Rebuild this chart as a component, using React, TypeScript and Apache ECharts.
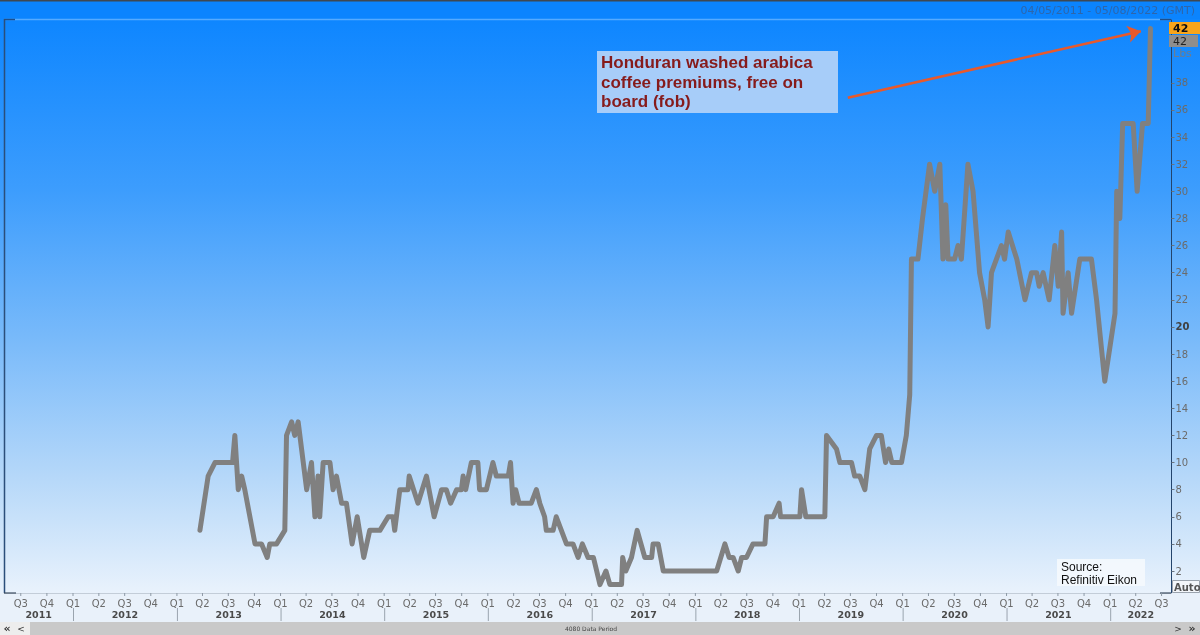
import React, { useEffect, useRef } from 'react';
import * as echarts from 'echarts';

// ---------- data ----------
const dates: string[] = [
  '2013-03-23', '2013-04-21', '2013-05-15', '2013-07-16', '2013-07-24', '2013-08-05', '2013-08-17', '2013-08-28', '2013-10-03', '2013-10-26', '2013-11-15', '2013-11-24', '2013-12-18',
  '2014-01-16', '2014-01-22', '2014-02-09', '2014-02-20', '2014-03-04', '2014-04-03', '2014-04-20', '2014-05-02', '2014-05-13', '2014-05-19', '2014-05-31', '2014-06-24', '2014-07-05', '2014-07-17', '2014-08-04', '2014-08-21', '2014-09-10', '2014-09-28', '2014-10-21', '2014-11-11', '2014-12-17',
  '2015-01-15', '2015-02-01', '2015-02-07', '2015-02-25', '2015-03-26', '2015-03-30', '2015-04-30', '2015-05-30', '2015-06-26', '2015-07-22', '2015-08-08', '2015-08-23', '2015-09-13', '2015-09-30', '2015-10-06', '2015-10-15', '2015-11-04', '2015-11-27', '2015-12-03', '2015-12-27',
  '2016-01-19', '2016-01-31', '2016-03-13', '2016-03-21', '2016-03-30', '2016-04-08', '2016-04-20', '2016-06-02', '2016-06-20', '2016-07-02', '2016-07-19', '2016-07-25', '2016-08-18', '2016-08-29', '2016-09-16', '2016-10-04', '2016-10-27', '2016-11-14', '2016-11-29', '2016-12-19',
  '2017-01-07', '2017-01-30', '2017-02-20', '2017-03-06', '2017-04-16', '2017-04-20', '2017-05-01', '2017-05-21', '2017-06-10', '2017-07-07', '2017-07-31', '2017-08-05', '2017-08-23', '2017-09-10',
  '2018-03-17', '2018-04-15', '2018-04-30', '2018-05-14', '2018-06-01', '2018-06-13', '2018-06-30', '2018-07-23', '2018-09-03', '2018-09-09', '2018-10-02', '2018-10-23', '2018-10-28',
  '2019-01-04', '2019-01-10', '2019-01-25', '2019-04-02', '2019-04-08', '2019-05-13', '2019-05-25', '2019-07-05', '2019-07-16', '2019-08-03', '2019-08-21', '2019-09-07', '2019-10-01', '2019-10-18', '2019-11-02', '2019-11-13', '2019-11-24', '2019-12-28',
  '2020-01-14', '2020-01-26', '2020-02-01', '2020-02-24', '2020-03-11', '2020-04-05', '2020-04-23', '2020-05-11', '2020-05-22', '2020-06-01', '2020-06-09', '2020-07-02', '2020-07-14', '2020-07-26', '2020-08-18', '2020-09-05', '2020-09-28', '2020-10-16', '2020-10-28', '2020-11-09', '2020-12-14', '2020-12-25',
  '2021-01-07', '2021-02-06', '2021-03-07', '2021-03-30', '2021-04-17', '2021-04-26', '2021-05-10', '2021-05-31', '2021-06-20', '2021-07-02', '2021-07-14', '2021-07-19', '2021-08-06', '2021-08-18', '2021-09-16', '2021-10-27', '2021-11-14', '2021-12-13',
  '2022-01-18', '2022-01-24', '2022-02-04', '2022-02-14', '2022-03-23', '2022-04-06', '2022-04-25', '2022-05-15', '2022-05-23',
];

const values: number[] = [
  5, 9, 10, 10, 12, 8, 9, 8, 4, 4, 3, 4, 4,
  5, 12, 13, 12, 13, 8, 10, 6, 9, 6, 10, 10, 8, 9, 7, 7, 4, 6, 3, 5, 5,
  6, 6, 5, 8, 8, 9, 7, 9, 6, 8, 8, 7, 8, 8, 9, 8, 10, 10, 8, 8,
  10, 9, 9, 10, 7, 8, 7, 7, 8, 7, 6, 5, 5, 6, 5, 4, 4, 3, 4, 3,
  3, 1, 2, 1, 1, 3, 2, 3, 5, 3, 3, 4, 4, 2,
  2, 4, 3, 3, 2, 3, 3, 4, 4, 6, 6, 7, 6,
  6, 8, 6, 6, 12, 11, 10, 10, 9, 9, 8, 11, 12, 12, 10, 11, 10, 10,
  12, 15, 25, 25, 28, 32, 30, 32, 25, 29, 25, 25, 26, 25, 32, 30, 24, 22, 20, 24, 26, 25,
  27, 25, 22, 24, 24, 23, 24, 22, 26, 23, 27, 21, 24, 21, 25, 25, 22, 16,
  21, 30, 28, 35, 35, 30, 35, 35, 42,
];

const yearLabels: string[] = ['2011', '2012', '2013', '2014', '2015', '2016', '2017', '2018', '2019', '2020', '2021', '2022'];
const quarterLabels: string[] = ['Q1', 'Q2', 'Q3', 'Q4'];
const yTickValues: number[] = [2, 4, 6, 8, 10, 12, 14, 16, 18, 20, 22, 24, 26, 28, 30, 32, 34, 36, 38];
const boldTick = 20;

const axisStart = '2011-05-04';
const axisEnd = '2022-08-05';
const Y_MIN = 0.38;
const Y_MAX = 42.63;

const lastValueLabel = '42';
const unitLabel = 'Lbs';
const headerRange = '04/05/2011 - 05/08/2022 (GMT)';
const annotationLines: string[] = ['Honduran washed arabica', 'coffee premiums, free on', 'board (fob)'];
const sourceLines: string[] = ['Source:', 'Refinitiv Eikon'];
const periodLabel = '4080 Data Period';
const arrowFrom: [string, number] = ['2019-06-22', 36.9];
const arrowTo: [string, number] = ['2022-04-19', 41.8];

// ---------- helpers ----------
function ts(s: string): number {
  const [y, m, d] = s.split('-').map(Number);
  return Date.UTC(y, m - 1, d);
}

const xMin = ts(axisStart);
const xMax = ts(axisEnd);

const quarterTicks: { t: number; label: string }[] = [];
yearLabels.forEach((y) => {
  quarterLabels.forEach((q, i) => {
    const t = Date.UTC(Number(y), i * 3, 1);
    if (t >= xMin && t <= xMax) quarterTicks.push({ t, label: q });
  });
});

const yearMarks = yearLabels.map((y) => {
  const s = Math.max(Date.UTC(Number(y), 0, 1), xMin);
  const e = Math.min(Date.UTC(Number(y) + 1, 0, 1), xMax);
  return { t: (s + e) / 2, label: y };
});

const yearSeparators = yearLabels
  .map((y) => Date.UTC(Number(y), 0, 1))
  .filter((t) => t > xMin && t < xMax);

const LABEL_FONT = '"DejaVu Sans", Verdana, sans-serif';

export default function App() {
  const ref = useRef<HTMLDivElement>(null);

  useEffect(() => {
    if (!ref.current) return;
    const chart = echarts.init(ref.current, undefined, { renderer: 'svg' });

    const lineData = dates.map((d, i) => [ts(d), values[i]]);

    const option: any = {
      animation: false,
      backgroundColor: 'transparent',
      grid: { left: 4.3, width: 1167.2, top: 20, height: 573, show: false },
      xAxis: {
        type: 'time',
        min: xMin,
        max: xMax,
        axisLine: { show: true, lineStyle: { color: '#c3cdd8', width: 1 } },
        axisTick: { show: false },
        axisLabel: { show: false },
        splitLine: { show: false },
      },
      yAxis: {
        type: 'value',
        position: 'right',
        min: Y_MIN,
        max: Y_MAX,
        axisLine: { show: true, lineStyle: { color: '#23446c', width: 1 } },
        axisTick: {
          show: true,
          length: 3,
          customValues: yTickValues,
          lineStyle: { color: '#6a7480' },
        },
        axisLabel: {
          show: true,
          customValues: yTickValues,
          margin: 4,
          formatter: (v: number) => (v === boldTick ? `{b|${v}}` : `{n|${v}}`),
          rich: {
            n: { color: '#6b6b6b', fontSize: 10, fontFamily: LABEL_FONT },
            b: { color: '#404040', fontSize: 10, fontWeight: 'bold', fontFamily: LABEL_FONT },
          },
        },
        splitLine: { show: false },
      },
      series: [
        {
          type: 'line',
          data: lineData,
          showSymbol: false,
          symbol: 'none',
          z: 3,
          lineStyle: { color: '#808080', width: 5, join: 'round', cap: 'round' },
          markLine: {
            silent: true,
            symbol: ['none', 'arrow'],
            symbolSize: 13,
            label: { show: false },
            lineStyle: { color: '#E8592B', width: 2.5, type: 'solid' },
            emphasis: { disabled: true },
            data: [
              [
                { coord: [ts(arrowFrom[0]), arrowFrom[1]] },
                { coord: [ts(arrowTo[0]), arrowTo[1]] },
              ],
            ],
          },
        },
        {
          type: 'custom',
          clip: false,
          silent: true,
          z: 5,
          data: quarterTicks.map((q) => [q.t, Y_MIN]),
          encode: { x: 0, y: 1 },
          renderItem: (params: any, api: any) => {
            const q = quarterTicks[params.dataIndex];
            const p = api.coord([api.value(0), api.value(1)]);
            return {
              type: 'group',
              children: [
                {
                  type: 'line',
                  shape: { x1: p[0], y1: p[1], x2: p[0], y2: p[1] + 3 },
                  style: { stroke: '#8d99a6', lineWidth: 1 },
                },
                {
                  type: 'text',
                  x: p[0],
                  y: p[1] + 10,
                  style: {
                    text: q.label,
                    fill: '#6b6b6b',
                    font: `10px ${LABEL_FONT}`,
                    align: 'center',
                    verticalAlign: 'middle',
                    textAlign: 'center',
                    textVerticalAlign: 'middle',
                  },
                },
              ],
            };
          },
        },
        {
          type: 'custom',
          clip: false,
          silent: true,
          z: 5,
          data: yearMarks.map((m) => [m.t, Y_MIN]),
          encode: { x: 0, y: 1 },
          renderItem: (params: any, api: any) => {
            const m = yearMarks[params.dataIndex];
            const p = api.coord([api.value(0), api.value(1)]);
            return {
              type: 'text',
              x: p[0],
              y: p[1] + 21.5,
              style: {
                text: m.label,
                fill: '#4a4a4a',
                font: `bold 9.5px ${LABEL_FONT}`,
                align: 'center',
                verticalAlign: 'middle',
                textAlign: 'center',
                textVerticalAlign: 'middle',
              },
            };
          },
        },
        {
          type: 'custom',
          clip: false,
          silent: true,
          z: 5,
          data: yearSeparators.map((t) => [t, Y_MIN]),
          encode: { x: 0, y: 1 },
          renderItem: (params: any, api: any) => {
            const p = api.coord([api.value(0), api.value(1)]);
            return {
              type: 'line',
              shape: { x1: p[0] + 0.5, y1: p[1] + 15, x2: p[0] + 0.5, y2: p[1] + 28 },
              style: { stroke: '#9aa4ae', lineWidth: 1 },
            };
          },
        },
      ],
      graphic: [
        // backgrounds
        { type: 'rect', z: -20, silent: true, shape: { x: 0, y: 0, width: 1200, height: 19 }, style: { fill: '#0B84FE' } },
        { type: 'rect', z: -19, silent: true, shape: { x: 0, y: 0, width: 1200, height: 1.5 }, style: { fill: '#3f4852' } },
        {
          type: 'rect', z: -20, silent: true,
          shape: { x: 0, y: 19, width: 1200, height: 574 },
          style: {
            fill: {
              type: 'linear', x: 0, y: 0, x2: 0, y2: 1,
              colorStops: [
                { offset: 0, color: '#0E86FF' },
                { offset: 0.3, color: '#3D9DFD' },
                { offset: 0.55, color: '#77B9FA' },
                { offset: 0.8, color: '#B6D8F9' },
                { offset: 1, color: '#E9F2FC' },
              ],
            },
          },
        },
        { type: 'rect', z: -20, silent: true, shape: { x: 0, y: 593, width: 1200, height: 29 }, style: { fill: '#E9F1FA' } },
        { type: 'rect', z: -20, silent: true, shape: { x: 0, y: 622, width: 1200, height: 13 }, style: { fill: '#C9C9C9' } },
        { type: 'rect', z: -19, silent: true, shape: { x: 0, y: 622, width: 30, height: 13 }, style: { fill: '#EDEDED' } },
        // frame
        { type: 'line', z: 1, silent: true, shape: { x1: 4, y1: 19.5, x2: 1171, y2: 19.5 }, style: { stroke: '#55AAFF', lineWidth: 1.5 } },
        { type: 'line', z: 1, silent: true, shape: { x1: 4, y1: 19.5, x2: 15, y2: 19.5 }, style: { stroke: '#1E4F8C', lineWidth: 1.5 } },
        { type: 'line', z: 1, silent: true, shape: { x1: 1160, y1: 19.5, x2: 1171, y2: 19.5 }, style: { stroke: '#1E4F8C', lineWidth: 1.5 } },
        { type: 'line', z: 1, silent: true, shape: { x1: 4.5, y1: 19, x2: 4.5, y2: 593 }, style: { stroke: '#2B4E7A', lineWidth: 1.5 } },
        { type: 'line', z: 1, silent: true, shape: { x1: 4, y1: 593, x2: 16, y2: 593 }, style: { stroke: '#3a4a5e', lineWidth: 1.2 } },
        { type: 'line', z: 1, silent: true, shape: { x1: 1160, y1: 593, x2: 1171, y2: 593 }, style: { stroke: '#3a4a5e', lineWidth: 1.2 } },
        // header
        {
          type: 'text', z: 1, silent: true, x: 1195, y: 10,
          style: { text: headerRange, fill: '#2E66AB', font: `11px ${LABEL_FONT}`, align: 'right', verticalAlign: 'middle' },
        },
        // last value boxes
        { type: 'rect', z: 20, silent: true, shape: { x: 1169, y: 22, width: 31, height: 12 }, style: { fill: '#F7A51C' } },
        {
          type: 'text', z: 21, silent: true, x: 1173, y: 28.5,
          style: { text: lastValueLabel, fill: '#111', font: `bold 11px ${LABEL_FONT}`, verticalAlign: 'middle' },
        },
        { type: 'rect', z: 20, silent: true, shape: { x: 1169, y: 35, width: 29, height: 12 }, style: { fill: '#8E8E8E' } },
        {
          type: 'text', z: 21, silent: true, x: 1173, y: 41,
          style: { text: lastValueLabel, fill: '#222', font: `11px ${LABEL_FONT}`, verticalAlign: 'middle' },
        },
        {
          type: 'text', z: 21, silent: true, x: 1173, y: 53,
          style: { text: unitLabel, fill: '#6f7d8c', font: `11px ${LABEL_FONT}`, verticalAlign: 'middle' },
        },
        // Auto box
        { type: 'rect', z: 20, silent: true, shape: { x: 1172.5, y: 580.5, width: 27, height: 12 }, style: { fill: '#F3F6FA', stroke: '#9aa3ad', lineWidth: 1 } },
        {
          type: 'text', z: 21, silent: true, x: 1174, y: 587,
          style: { text: 'Auto', fill: '#555', font: `bold 10px ${LABEL_FONT}`, verticalAlign: 'middle' },
        },
        // annotation
        { type: 'rect', z: 20, silent: true, shape: { x: 597, y: 51, width: 241, height: 62 }, style: { fill: '#A7CDF9' } },
        {
          type: 'text', z: 21, silent: true, x: 601, y: 53,
          style: {
            text: annotationLines.join('\n'),
            fill: '#861B1B',
            font: 'bold 17px "Liberation Sans", Arial, sans-serif',
            lineHeight: 19.5,
            verticalAlign: 'top',
          },
        },
        // source
        { type: 'rect', z: 20, silent: true, shape: { x: 1057, y: 559, width: 88, height: 27 }, style: { fill: 'rgba(244,248,253,0.92)' } },
        {
          type: 'text', z: 21, silent: true, x: 1061, y: 560,
          style: {
            text: sourceLines.join('\n'),
            fill: '#111',
            font: '12px "Liberation Sans", Arial, sans-serif',
            lineHeight: 13.5,
            verticalAlign: 'top',
          },
        },
        // scrollbar glyphs
        { type: 'text', z: 21, silent: true, x: 7, y: 628.5, style: { text: '«', fill: '#333', font: `bold 11px ${LABEL_FONT}`, align: 'center', verticalAlign: 'middle' } },
        { type: 'text', z: 21, silent: true, x: 21, y: 628.5, style: { text: '<', fill: '#333', font: `9px ${LABEL_FONT}`, align: 'center', verticalAlign: 'middle' } },
        { type: 'text', z: 21, silent: true, x: 591, y: 628.5, style: { text: periodLabel, fill: '#444', font: `6px ${LABEL_FONT}`, align: 'center', verticalAlign: 'middle' } },
        { type: 'text', z: 21, silent: true, x: 1178, y: 628.5, style: { text: '>', fill: '#333', font: `9px ${LABEL_FONT}`, align: 'center', verticalAlign: 'middle' } },
        { type: 'text', z: 21, silent: true, x: 1192, y: 628.5, style: { text: '»', fill: '#333', font: `bold 11px ${LABEL_FONT}`, align: 'center', verticalAlign: 'middle' } },
      ],
    };

    chart.setOption(option);
    return () => chart.dispose();
  }, []);

  return (
    <div
      ref={ref}
      style={{ position: 'fixed', left: 0, top: 0, width: 1200, height: 635 }}
    />
  );
}
